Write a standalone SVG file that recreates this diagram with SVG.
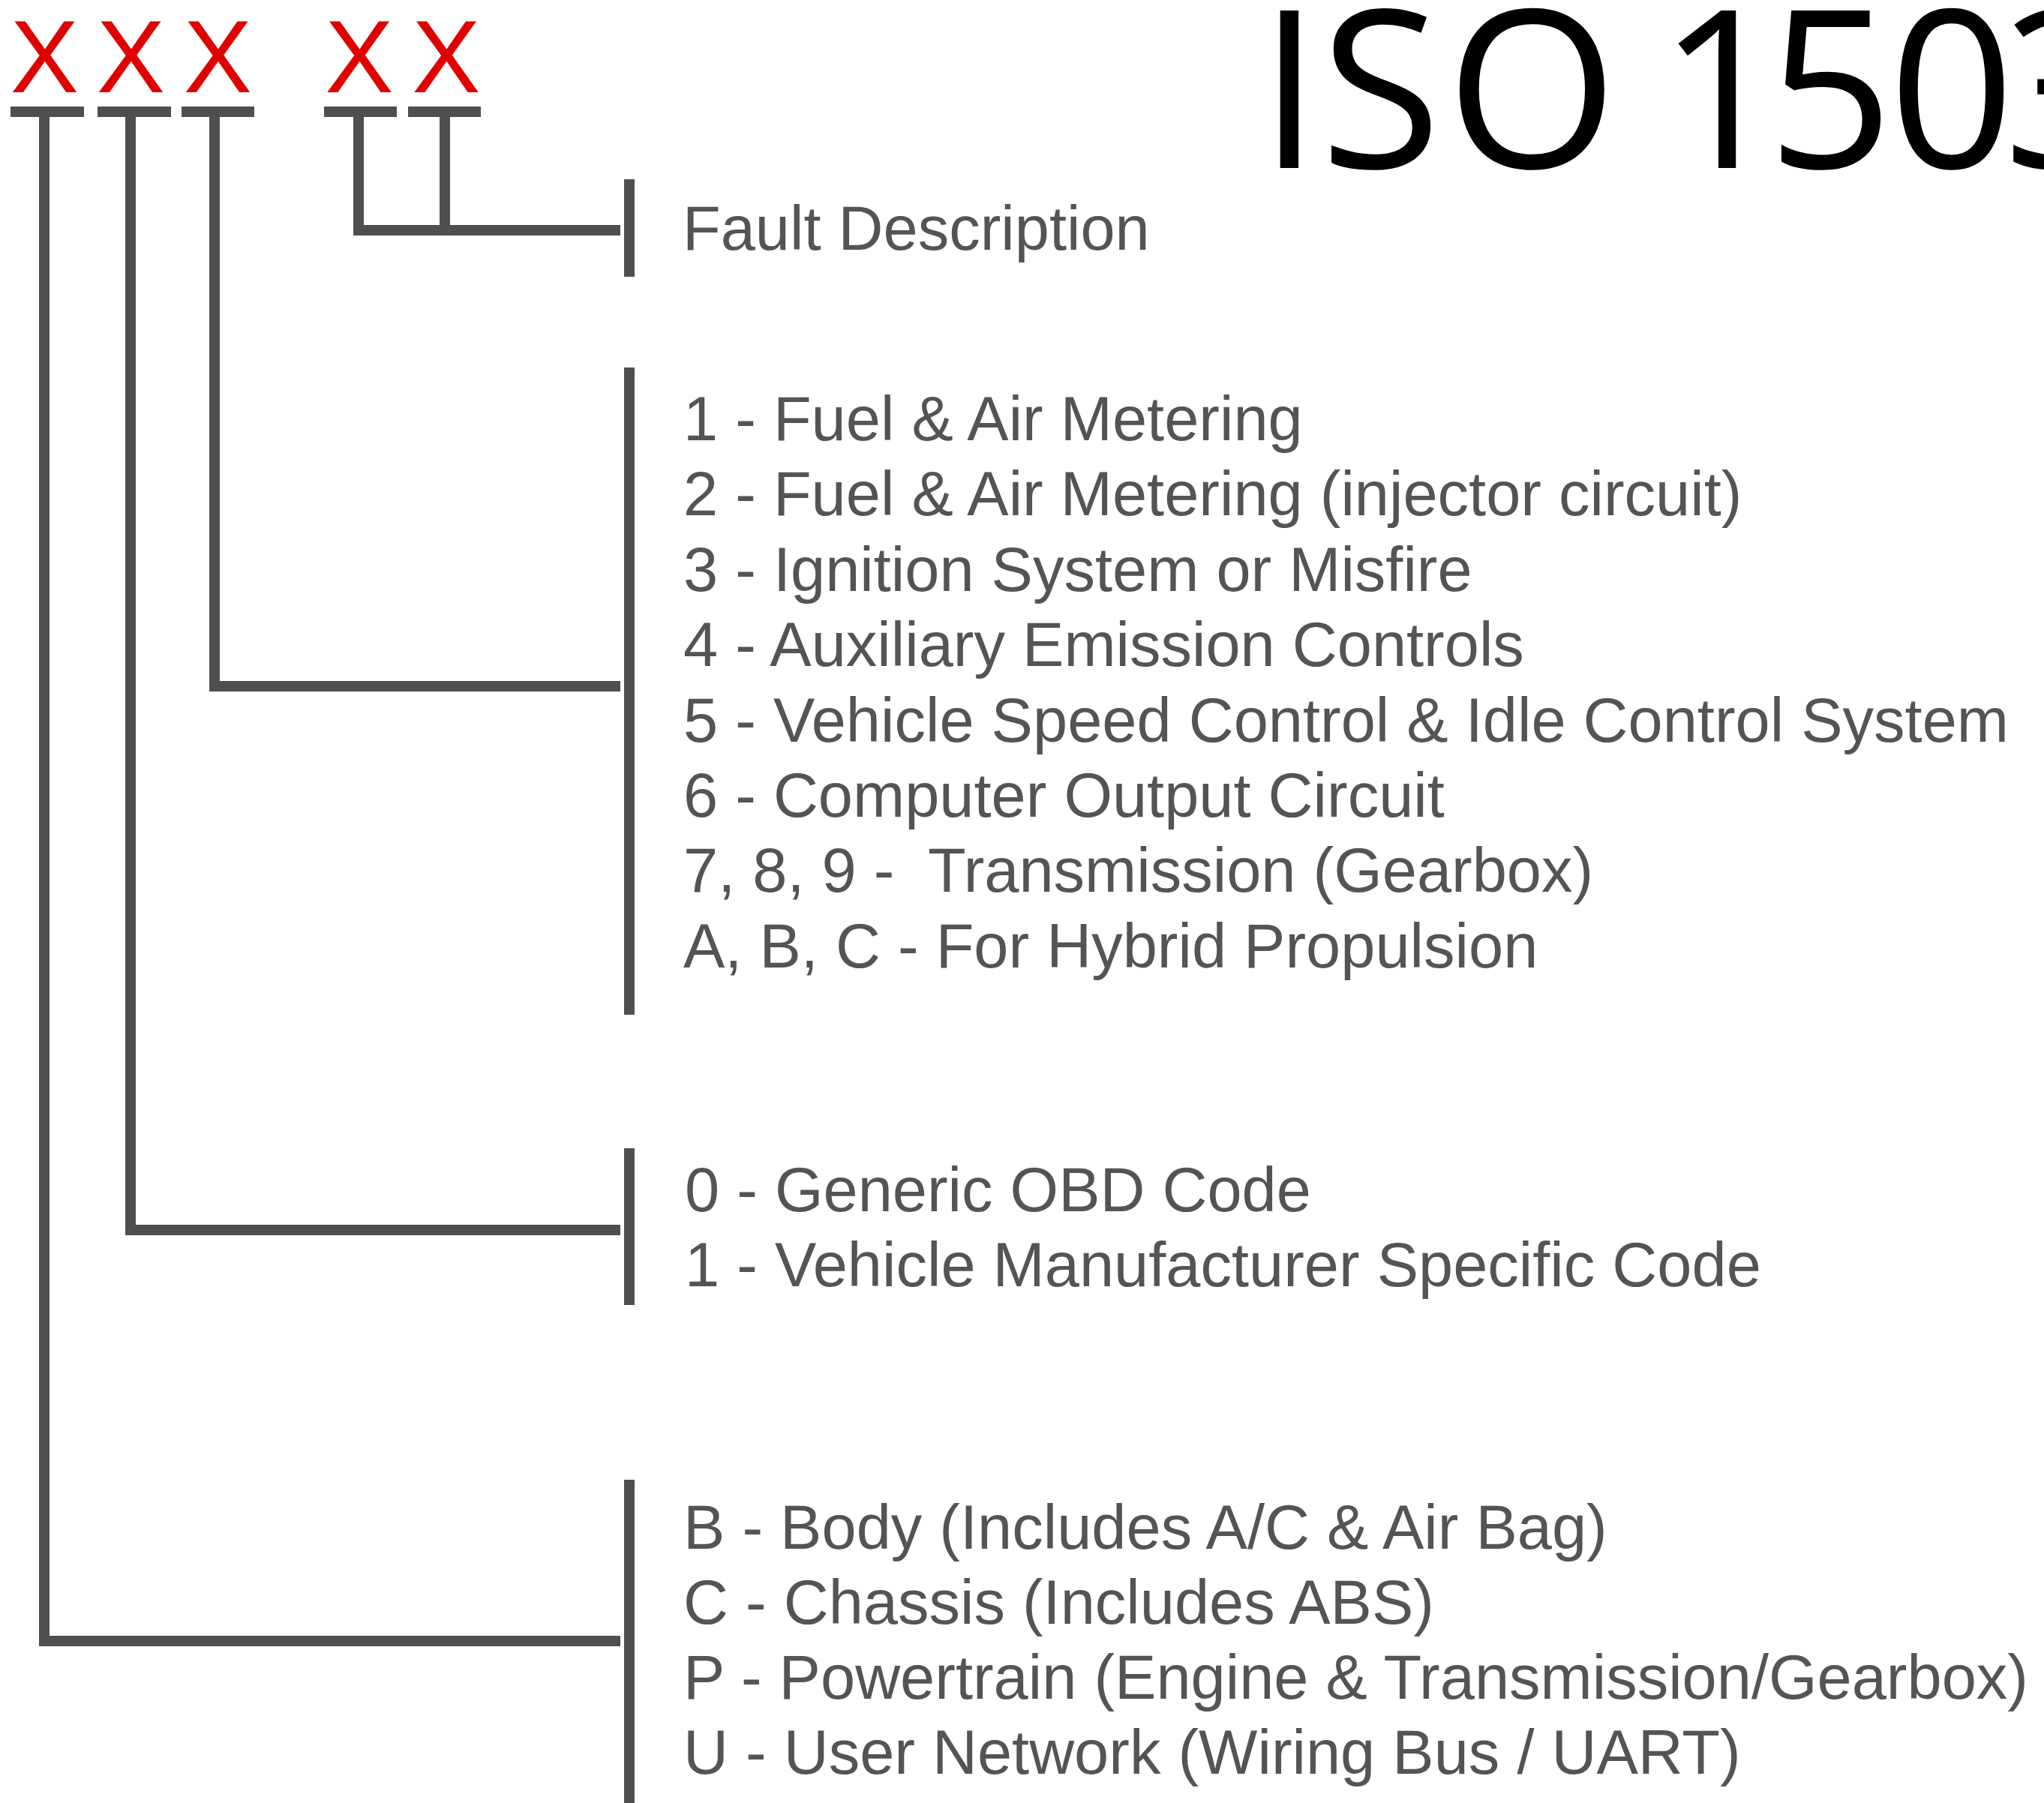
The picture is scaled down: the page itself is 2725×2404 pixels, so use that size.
<svg xmlns="http://www.w3.org/2000/svg" width="2725" height="2404" viewBox="0 0 2725 2404">
  <style>
    .digit { font-family: "Liberation Sans", Arial, sans-serif; font-size: 137px; fill: #e00000; text-anchor: middle; }
    .lbl { font-family: "Liberation Sans", Arial, sans-serif; font-size: 83px; fill: #545454; white-space: pre; }
    .title { font-family: "Open Sans", "Noto Sans", sans-serif; font-size: 294px; fill: #000000; }
    .wire { fill: none; stroke: #4f4f4f; stroke-width: 14; stroke-linejoin: miter; stroke-linecap: butt; }
    .bar { fill: #4f4f4f; }
  </style>
  <rect x="0" y="0" width="2725" height="2404" fill="#ffffff"/>

  <g id="title">
    <text class="title" x="1678 1760 1928 2165 2211 2356 2518 2671" y="224">ISO 1503</text>
  </g>

  <g id="code-digits">
    <text class="digit" x="59.5" y="123">X</text>
    <text class="digit" x="174.5" y="123">X</text>
    <text class="digit" x="290.5" y="123">X</text>
    <text class="digit" x="479" y="123">X</text>
    <text class="digit" x="595" y="123">X</text>
    <rect class="bar" x="14" y="142" width="98" height="14"/>
    <rect class="bar" x="130" y="142" width="98" height="14"/>
    <rect class="bar" x="242" y="142" width="97" height="14"/>
    <rect class="bar" x="432" y="142" width="97" height="14"/>
    <rect class="bar" x="544" y="142" width="97" height="14"/>
  </g>

  <g id="connectors">
    <path class="wire" d="M59,150 V2188 H827"/>
    <path class="wire" d="M174,150 V1640 H827"/>
    <path class="wire" d="M286,150 V915 H827"/>
    <path class="wire" d="M478,150 V307 H827"/>
    <path class="wire" d="M593,150 V307"/>
  </g>

  <g id="node-fault-description">
    <rect class="bar" x="832" y="239" width="14" height="130"/>
    <text class="lbl" x="910" y="333">Fault Description</text>
  </g>

  <g id="node-subsystem">
    <rect class="bar" x="832" y="490" width="14" height="863"/>
    <text class="lbl" x="911" y="587">1 - Fuel &amp; Air Metering</text>
    <text class="lbl" x="911" y="687.4">2 - Fuel &amp; Air Metering (injector circuit)</text>
    <text class="lbl" x="911" y="787.8">3 - Ignition System or Misfire</text>
    <text class="lbl" x="911" y="888.2">4 - Auxiliary Emission Controls</text>
    <text class="lbl" x="911" y="988.6">5 - Vehicle Speed Control &amp; Idle Control System</text>
    <text class="lbl" x="911" y="1089">6 - Computer Output Circuit</text>
    <text class="lbl" x="911" y="1189.4">7, 8, 9 -  Transmission (Gearbox)</text>
    <text class="lbl" x="911" y="1289.8">A, B, C - For Hybrid Propulsion</text>
  </g>

  <g id="node-code-type">
    <rect class="bar" x="832" y="1531" width="14" height="209"/>
    <text class="lbl" x="913" y="1615">0 - Generic OBD Code</text>
    <text class="lbl" x="913" y="1715">1 - Vehicle Manufacturer Specific Code</text>
  </g>

  <g id="node-system">
    <rect class="bar" x="832" y="1973" width="14" height="431"/>
    <text class="lbl" x="911" y="2065">B - Body (Includes A/C &amp; Air Bag)</text>
    <text class="lbl" x="911" y="2165">C - Chassis (Includes ABS)</text>
    <text class="lbl" x="911" y="2265">P - Powertrain (Engine &amp; Transmission/Gearbox)</text>
    <text class="lbl" x="911" y="2365">U - User Network (Wiring Bus / UART)</text>
  </g>
</svg>
